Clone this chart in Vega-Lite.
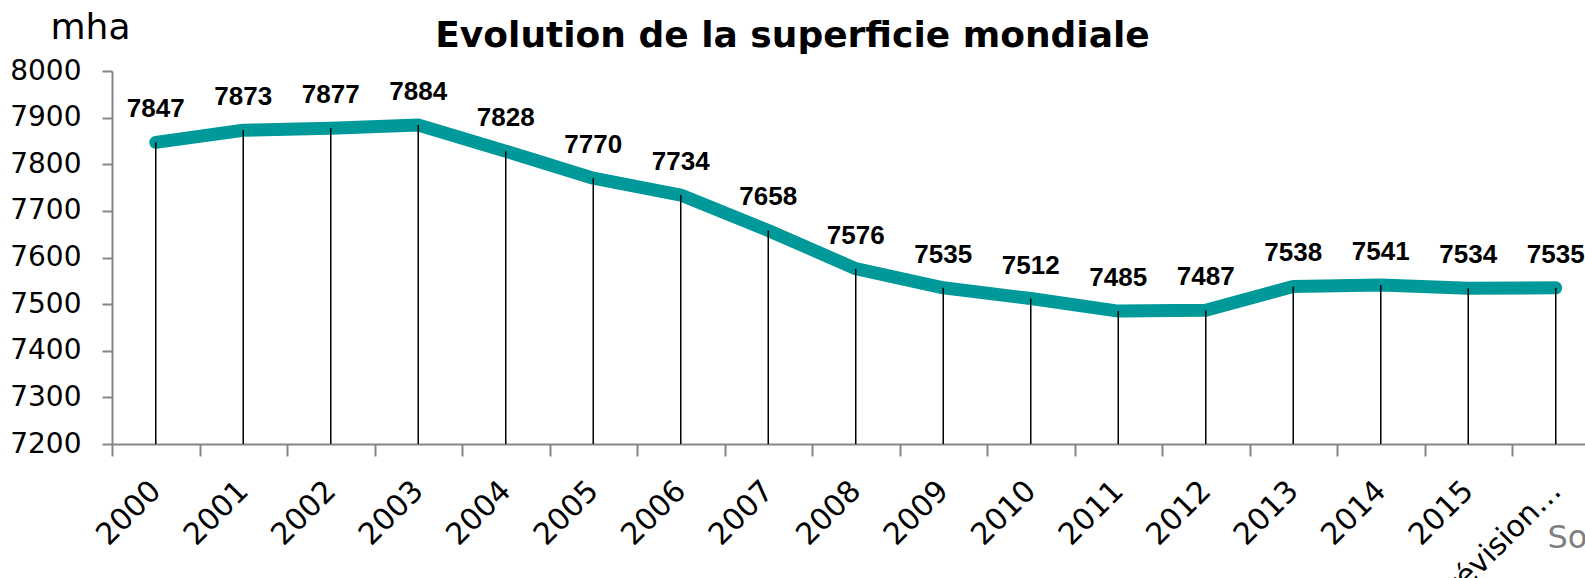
{
  "$schema": "https://vega.github.io/schema/vega-lite/v6.json",
  "autosize": {"type": "none"},
  "width": 1473,
  "height": 373,
  "padding": {"left": 112, "top": 71, "right": 0, "bottom": 134},
  "background": "white",
  "title": {
    "text": "Evolution de la superficie mondiale",
    "font": "DejaVu Sans",
    "fontWeight": "bold",
    "fontSize": 36,
    "color": "black",
    "anchor": "middle",
    "frame": "group",
    "baseline": "alphabetic",
    "dx": -56,
    "dy": 84,
    "offset": 10
  },
  "config": {"view": {"stroke": null}},
  "data": {
    "values": [
      {"annee": "2000", "valeur": 7847},
      {"annee": "2001", "valeur": 7873},
      {"annee": "2002", "valeur": 7877},
      {"annee": "2003", "valeur": 7884},
      {"annee": "2004", "valeur": 7828},
      {"annee": "2005", "valeur": 7770},
      {"annee": "2006", "valeur": 7734},
      {"annee": "2007", "valeur": 7658},
      {"annee": "2008", "valeur": 7576},
      {"annee": "2009", "valeur": 7535},
      {"annee": "2010", "valeur": 7512},
      {"annee": "2011", "valeur": 7485},
      {"annee": "2012", "valeur": 7487},
      {"annee": "2013", "valeur": 7538},
      {"annee": "2014", "valeur": 7541},
      {"annee": "2015", "valeur": 7534},
      {"annee": "Prévision 2016", "valeur": 7535}
    ]
  },
  "encoding": {
    "x": {
      "field": "annee",
      "type": "nominal",
      "sort": null,
      "bandPosition": 0.5,
      "scale": {"type": "band", "paddingInner": 0, "paddingOuter": 0, "range": [0, 1487.5]},
      "axis": {
        "title": "Source",
        "titleFont": "DejaVu Sans",
        "titleFontSize": 32,
        "titleFontWeight": "normal",
        "titleColor": "#7f7f7f",
        "titleAlign": "left",
        "titleBaseline": "alphabetic",
        "titleAnchor": "start",
        "titleX": 1435,
        "titleY": 103,
        "domainColor": "#868686",
        "domainWidth": 2,
        "tickColor": "#868686",
        "tickWidth": 2,
        "tickSize": 12,
        "tickBand": "extent",
        "labelAngle": -45,
        "labelAlign": "right",
        "labelBaseline": "middle",
        "labelFont": "DejaVu Sans",
        "labelFontSize": 30,
        "labelColor": "black",
        "labelPadding": 30,
        "labelLimit": 170,
        "labelOverlap": false
      }
    }
  },
  "layer": [
    {
      "mark": {"type": "line", "color": "#009999", "strokeWidth": 13, "strokeCap": "round", "strokeJoin": "round"},
      "encoding": {
        "y": {
          "field": "valeur",
          "type": "quantitative",
          "scale": {"domain": [7200, 8000], "zero": false, "nice": false},
          "axis": {
            "title": "mha",
            "titleAngle": 0,
            "titleAlign": "left",
            "titleBaseline": "alphabetic",
            "titleX": -62,
            "titleY": -33,
            "titleFont": "DejaVu Sans",
            "titleFontSize": 36,
            "titleFontWeight": "normal",
            "titleColor": "black",
            "values": [7200, 7300, 7400, 7500, 7600, 7700, 7800, 7900, 8000],
            "grid": false,
            "domainColor": "#868686",
            "domainWidth": 2,
            "tickColor": "#868686",
            "tickWidth": 2,
            "tickSize": 10,
            "labelFont": "DejaVu Sans",
            "labelFontSize": 28,
            "labelColor": "black",
            "labelPadding": 21,
            "format": "d"
          }
        }
      }
    },
    {
      "mark": {"type": "rule", "color": "black", "strokeWidth": 1.5},
      "encoding": {
        "y": {"field": "valeur", "type": "quantitative"},
        "y2": {"datum": 7200}
      }
    },
    {
      "mark": {"type": "text", "font": "Liberation Sans", "fontWeight": "bold", "fontSize": 26, "baseline": "alphabetic", "dy": -25, "color": "black"},
      "encoding": {
        "y": {"field": "valeur", "type": "quantitative"},
        "text": {"field": "valeur", "type": "quantitative", "format": "d"}
      }
    }
  ]
}
